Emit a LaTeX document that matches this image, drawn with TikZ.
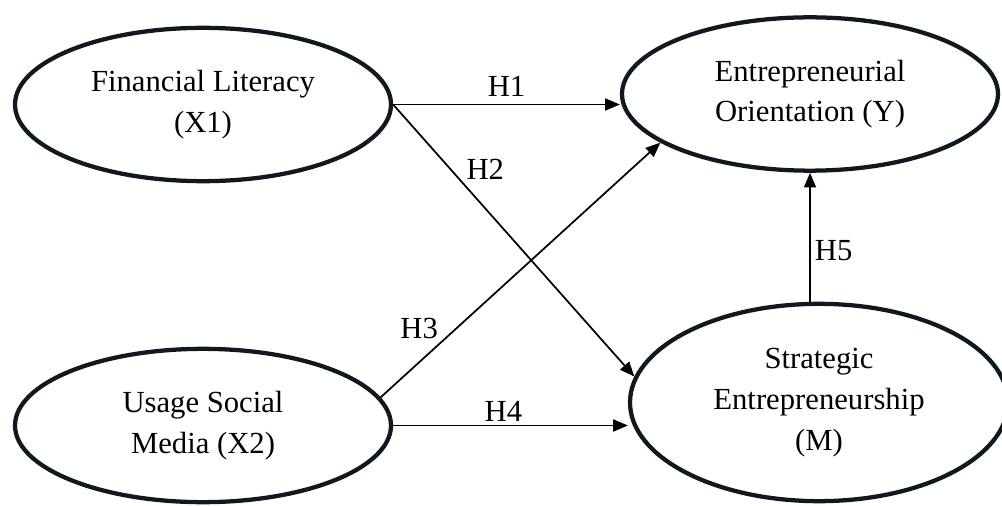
\documentclass[tikz,border=0pt]{standalone}
\usepackage{fontspec}
\setmainfont{Liberation Serif}
\usetikzlibrary{shapes.geometric, arrows.meta, positioning}
\definecolor{rimdark}{RGB}{16, 24, 32}

\tikzset{
  construct/.style={ellipse, draw=rimdark, line width=3.2pt, align=center, inner sep=0pt,
    minimum width=282pt, minimum height=115pt, font=\fontsize{23}{30.5}\selectfont},
  link/.style={-{Triangle[length=11pt, width=9pt]}, line width=1.3pt},
  hyp/.style={font=\fontsize{23}{27}\selectfont, inner sep=2pt}
}

\begin{document}
\begin{tikzpicture}[x=0.75pt, y=-0.75pt]
  \useasboundingbox (0,0) rectangle (1002,506);

  % Constructs
  \node[construct] (x1) at (203, 104.5) {Financial Literacy\\(X1)};
  \node[construct] (x2) at (203, 425.5) {Usage Social\\Media (X2)};
  \node[construct] (y) at (810, 94) {Entrepreneurial\\Orientation (Y)};
  \node[construct, minimum width=283.5pt, minimum height=148pt] (m) at (819, 402.5) {Strategic\\Entrepreneurship\\(M)};

  % Hypotheses
  \draw[link] (x1.east) -- (x1.east -| y.west) node[hyp, midway, above=3pt] (h1) {H1};
  \draw[link] (x1.east) -- (m.172) node[hyp, pos=0.24, right=9pt] (h2) {H2};
  \draw[link] (x2.9) -- (y.198) node[hyp, pos=0.27, left=11pt] (h3) {H3};
  \draw[link] (x2.east) -- (x2.east -| m.west) node[hyp, pos=0.47, above] (h4) {H4};
  \draw[link] (y.south |- m.north) -- (y.south) node[hyp, pos=0.4, right=1pt] (h5) {H5};
\end{tikzpicture}
\end{document}
